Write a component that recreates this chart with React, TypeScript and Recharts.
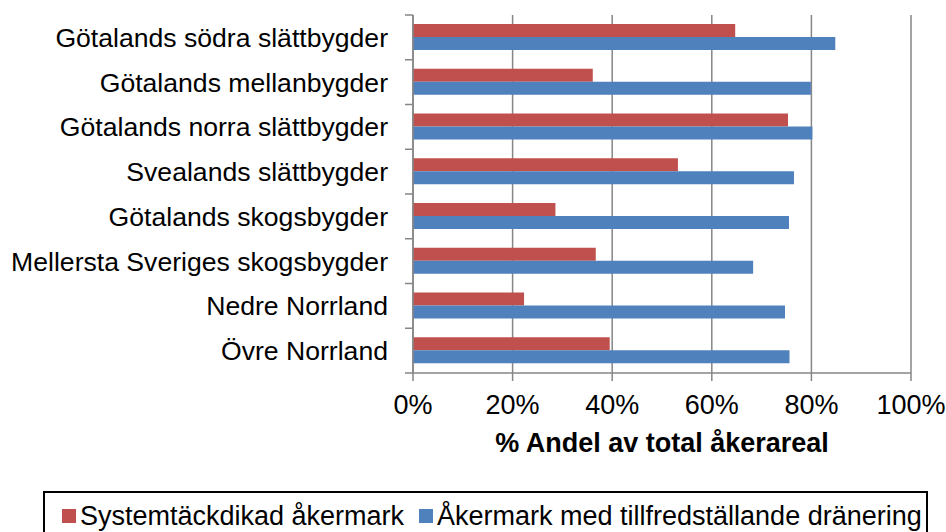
import React from 'react';
import { BarChart, Bar, XAxis, YAxis, CartesianGrid, Label } from 'recharts';

const categories = [
  'Götalands södra slättbygder',
  'Götalands mellanbygder',
  'Götalands norra slättbygder',
  'Svealands slättbygder',
  'Götalands skogsbygder',
  'Mellersta Sveriges skogsbygder',
  'Nedre Norrland',
  'Övre Norrland',
];
const systemtackdikad = [64.7, 36.1, 75.3, 53.2, 28.6, 36.7, 22.3, 39.5];
const tillfredstallande = [84.8, 79.9, 80.2, 76.5, 75.5, 68.3, 74.7, 75.6];
const xTicks = [0, 20, 40, 60, 80, 100];

const seriesNames = ['Systemtäckdikad åkermark', 'Åkermark med tillfredställande dränering'];
const RED = '#C0504D';
const BLUE = '#4F81BD';
const AXIS = '#868686';
const FONT = 'Arial, "Liberation Sans", sans-serif';
const FS = 27;

const data = categories.map((name, i) => ({
  name,
  sys: systemtackdikad[i],
  ok: tillfredstallande[i],
}));

const W = 946;
const H = 532;
const margin = { top: 15, right: 35, left: 0, bottom: 99 };
const xAxisHeight = 60;
const plotH = H - margin.top - margin.bottom - xAxisHeight;
const band = plotH / categories.length;

function CategoryTick(props: any) {
  const { x, y, payload, index } = props;
  const axisX = x + 25;
  return (
    <g>
      <text x={x} y={y} dy="0.36em" textAnchor="end" fontSize={26.6} fill="#000" fontFamily={FONT}>
        {payload.value}
      </text>
      <line x1={axisX - 8} x2={axisX} y1={y - band / 2} y2={y - band / 2} stroke={AXIS} strokeWidth={1.5} />
      {index === categories.length - 1 && (
        <line x1={axisX - 8} x2={axisX} y1={y + band / 2} y2={y + band / 2} stroke={AXIS} strokeWidth={1.5} />
      )}
    </g>
  );
}

export default function App() {
  return (
    <div style={{ position: 'absolute', left: 0, top: 0, width: W, height: H, background: '#fff', overflow: 'hidden' }}>
      <BarChart
        width={W}
        height={H}
        data={data}
        layout="vertical"
        margin={margin}
        barGap={0}
        barCategoryGap="21%"
      >
        <CartesianGrid horizontal={false} stroke={AXIS} strokeWidth={1.5} verticalValues={xTicks} />
        <XAxis
          type="number"
          domain={[0, 100]}
          ticks={xTicks}
          tickFormatter={(v) => `${v}%`}
          height={xAxisHeight}
          stroke={AXIS}
          strokeWidth={1.5}
          tickSize={8}
          tickMargin={14}
          tick={{ fill: '#000', fontSize: FS, fontFamily: FONT }}
          interval={0}
        >
          <Label
            value="% Andel av total åkerareal"
            position="bottom"
            offset={0}
            style={{ fill: '#000', fontSize: FS, fontWeight: 'bold', fontFamily: FONT }}
          />
        </XAxis>
        <YAxis
          type="category"
          dataKey="name"
          width={413}
          stroke={AXIS}
          strokeWidth={1.5}
          tickLine={false}
          tickSize={0}
          tickMargin={25}
          tick={<CategoryTick />}
          interval={0}
        />
        <Bar dataKey="sys" name={seriesNames[0]} fill={RED} barSize={13} isAnimationActive={false} />
        <Bar dataKey="ok" name={seriesNames[1]} fill={BLUE} barSize={13} isAnimationActive={false} />
      </BarChart>
      <div
        style={{
          position: 'absolute',
          left: 43,
          top: 491,
          width: 881,
          height: 60,
          border: '2px solid #000',
          fontFamily: FONT,
          fontSize: FS,
          color: '#000',
        }}
      >
        {seriesNames.map((n, i) => (
          <div
            key={n}
            style={{ position: 'absolute', top: 8, left: i === 0 ? 17 : 374, display: 'flex', alignItems: 'center', whiteSpace: 'nowrap', lineHeight: '30px' }}
          >
            <span style={{ display: 'inline-block', width: 14, height: 14, background: i === 0 ? RED : BLUE, marginRight: 4 }} />
            {n}
          </div>
        ))}
      </div>
    </div>
  );
}
